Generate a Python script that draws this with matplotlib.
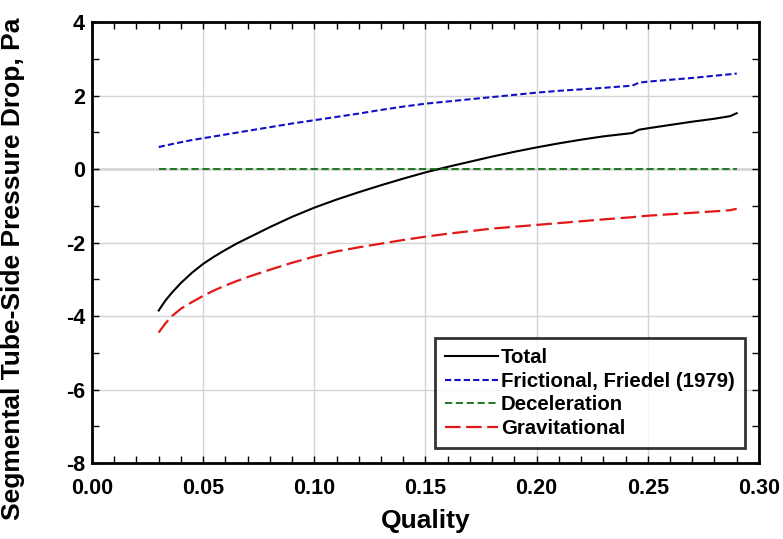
import matplotlib
matplotlib.use("Agg")
from matplotlib import pyplot as plt
from matplotlib.ticker import MultipleLocator, FormatStrFormatter

plt.rcParams['font.family'] = ['Liberation Sans', 'DejaVu Sans']
plt.rcParams['font.weight'] = 'bold'

# quality points
quality = [0.030, 0.033, 0.036, 0.040, 0.045, 0.050, 0.055, 0.060, 0.065, 0.070,
           0.080, 0.090, 0.100, 0.110, 0.120, 0.130, 0.140, 0.150, 0.160, 0.170,
           0.180, 0.190, 0.200, 0.210, 0.220, 0.230, 0.243, 0.246, 0.250, 0.260,
           0.270, 0.280, 0.287, 0.290]

total = [-3.85, -3.58, -3.36, -3.10, -2.82, -2.58, -2.38, -2.20, -2.03, -1.88,
         -1.58, -1.30, -1.05, -0.83, -0.63, -0.44, -0.26, -0.09, 0.06, 0.20,
         0.34, 0.47, 0.59, 0.70, 0.80, 0.89, 0.98, 1.07, 1.11, 1.20,
         1.29, 1.37, 1.44, 1.52]

frictional = [0.60, 0.64, 0.68, 0.73, 0.79, 0.84, 0.89, 0.94, 0.99, 1.04,
              1.14, 1.24, 1.33, 1.42, 1.51, 1.61, 1.70, 1.78, 1.84, 1.90,
              1.96, 2.02, 2.08, 2.13, 2.17, 2.21, 2.27, 2.35, 2.38, 2.43,
              2.48, 2.54, 2.58, 2.60]

deceleration = [0.0] * len(quality)

gravitational = [-4.45, -4.20, -4.00, -3.80, -3.62, -3.45, -3.30, -3.17, -3.05, -2.94,
                 -2.74, -2.55, -2.38, -2.24, -2.13, -2.03, -1.93, -1.84, -1.76, -1.69,
                 -1.62, -1.57, -1.52, -1.47, -1.42, -1.37, -1.31, -1.29, -1.27, -1.23,
                 -1.19, -1.15, -1.12, -1.08]

fig = plt.figure(figsize=(7.83, 5.39), dpi=100, facecolor='white')
ax = fig.add_axes([0.1175, 0.141, 0.8518, 0.818])

ax.grid(True, which='major', color='#d4d4d4', linewidth=1.0)
ax.axhline(0, color='black', linewidth=0.9, zorder=1)

ax.plot(quality, total, color='black', linewidth=1.5, label='Total', zorder=3)
ax.plot(quality, frictional, color='#1010c8', linewidth=1.5, dashes=(3, 1.5),
        label='Frictional, Friedel (1979)', zorder=3)
ax.plot(quality, deceleration, color='#107010', linewidth=1.3, dashes=(4, 2),
        label='Deceleration', zorder=3)
ax.plot(quality, gravitational, color='#e01818', linewidth=1.6, dashes=(7, 2.5),
        label='Gravitational', zorder=3)

ax.set_xlim(0, 0.30)
ax.set_ylim(-8, 4)
ax.xaxis.set_major_locator(MultipleLocator(0.05))
ax.xaxis.set_minor_locator(MultipleLocator(0.01))
ax.yaxis.set_major_locator(MultipleLocator(2))
ax.yaxis.set_minor_locator(MultipleLocator(1))
ax.xaxis.set_major_formatter(FormatStrFormatter('%.2f'))
ax.yaxis.set_major_formatter(FormatStrFormatter('%d'))

ax.tick_params(which='both', direction='in', top=True, right=True,
               width=1.0, labelsize=15.5)
ax.tick_params(which='major', length=5)
ax.tick_params(which='minor', length=5)
ax.tick_params(axis='x', which='major', pad=11)
ax.tick_params(axis='y', which='major', pad=5)
for lab in ax.get_xticklabels() + ax.get_yticklabels():
    lab.set_fontweight('bold')
for s in ax.spines.values():
    s.set_linewidth(2.0)

ax.set_xlabel('Quality', fontsize=19, fontweight='bold', labelpad=7)
ax.set_ylabel('Segmental Tube-Side Pressure Drop, Pa', fontsize=19,
              fontweight='bold')
ax.yaxis.set_label_coords(-0.1, 0.44)

leg = ax.legend(loc='lower right', bbox_to_anchor=(0.979, 0.034), fontsize=14.7,
                frameon=True, fancybox=False, handlelength=2.6, handletextpad=0.15,
                borderpad=0.5, labelspacing=0.22, borderaxespad=0)
leg.get_frame().set_edgecolor('black')
leg.get_frame().set_linewidth(2.0)
for t in leg.get_texts():
    t.set_fontweight('bold')

plt.savefig('out.png', dpi=100, facecolor='white')
